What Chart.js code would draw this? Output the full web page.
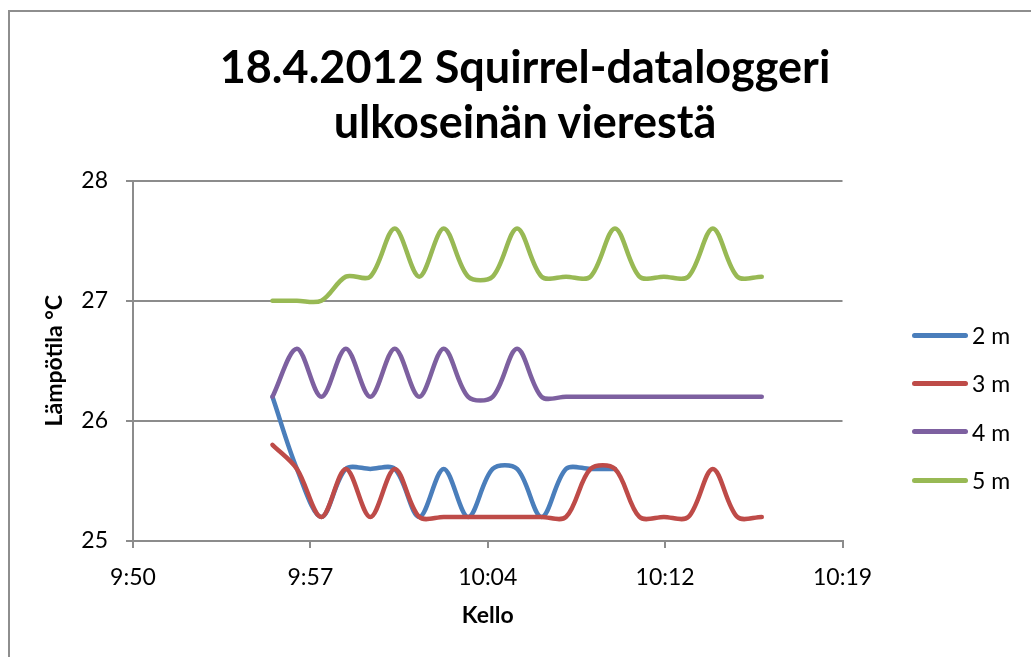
<!DOCTYPE html>
<html>
<head>
<meta charset="utf-8">
<script src="https://cdn.jsdelivr.net/npm/chart.js@4.4.1/dist/chart.umd.min.js"></script>
<style>
html,body{margin:0;padding:0;background:#fff;}
body{width:1031px;height:657px;overflow:hidden;position:relative;font-family:Lato,"Open Sans",sans-serif;}
#frame{position:absolute;left:8px;top:10px;width:1100px;height:700px;border-left:2px solid #8e8e8e;border-top:2px solid #8e8e8e;}
#title{position:absolute;left:0;width:1050px;top:39px;text-align:center;font-weight:bold;font-size:45px;line-height:55px;color:#000;}
#legend{position:absolute;left:912px;top:0;}
.item{position:absolute;left:0;white-space:nowrap;display:flex;align-items:center;font-size:23px;line-height:30px;color:#000;}
.swatch{width:56px;height:5px;border-radius:3px;margin-right:4px;}
#chart{position:absolute;left:0;top:0;}
</style>
</head>
<body>
<div id="frame"></div>
<canvas id="chart" width="1031" height="657"></canvas>
<div id="title">18.4.2012 Squirrel-dataloggeri<br>ulkoseinän vierestä</div>
<div id="legend"></div>
<script>
// mittausajat (1 min välein)
const times = [
    "9:55:42","9:56:42","9:57:42","9:58:42","9:59:42","10:00:42","10:01:42",
    "10:02:42","10:03:42","10:04:42","10:05:42","10:06:42","10:07:42","10:08:42",
    "10:09:42","10:10:42","10:11:42","10:12:42","10:13:42","10:14:42","10:15:42"
];

const seriesNames = ["2 m","3 m","4 m","5 m"];

const temp2m = [26.2,25.6,25.2,25.6,25.6,25.6,25.2,25.6,25.2,25.6,25.6,25.2,25.6,25.6,25.6];
const temp3m = [25.8,25.6,25.2,25.6,25.2,25.6,25.2,25.2,25.2,25.2,25.2,25.2,25.2,25.6,25.6,25.2,25.2,25.2,25.6,25.2,25.2];
const temp4m = [26.2,26.6,26.2,26.6,26.2,26.6,26.2,26.6,26.2,26.2,26.6,26.2,26.2,26.2,26.2,26.2,26.2,26.2,26.2,26.2,26.2];
const temp5m = [27.0,27.0,27.0,27.2,27.2,27.6,27.2,27.6,27.2,27.2,27.6,27.2,27.2,27.2,27.6,27.2,27.2,27.2,27.6,27.2,27.2];

const xTickLabels = ["9:50","9:57","10:04","10:12","10:19"];
const xStart = "9:50";
const xEnd = "10:19";

const colors = ["#4A7EBB","#BE4B48","#7D60A0","#98B954"];

function toMinutes(t){
    const p = t.split(":").map(Number);
    return p[0]*60 + p[1] + (p[2] || 0)/60;
}

function points(values){
    return values.map((v,i)=>({x:toMinutes(times[i]), y:v}));
}

const allSeries = [temp2m,temp3m,temp4m,temp5m];

const xMin = toMinutes(xStart);
const xMax = toMinutes(xEnd);

const gridColor = "#8c8c8c";
const font = "Lato, 'Open Sans', sans-serif";

const chart = new Chart(document.getElementById("chart"),{

    type:"line",

    data:{
        datasets: allSeries.map((vals,i)=>({
            label: seriesNames[i],
            data: points(vals),
            borderColor: colors[i],
            backgroundColor: colors[i],
            borderWidth: 4.5,
            borderCapStyle: "round",
            borderJoinStyle: "round",
            pointRadius: 0,
            tension: 0.33,
            fill: false,
            order: allSeries.length - i
        }))
    },

    options:{
        responsive:false,
        animation:false,
        layout:{
            padding:{left:30, right:188.5, top:180.5, bottom:0}
        },
        plugins:{
            legend:{display:false},
            tooltip:{enabled:false}
        },
        scales:{
            x:{
                type:"linear",
                min:xMin,
                max:xMax,
                afterBuildTicks:(scale)=>{
                    scale.ticks = xTickLabels.map((l,i)=>({
                        value: xMin + i*(xMax-xMin)/(xTickLabels.length-1)
                    }));
                },
                afterFit:(scale)=>{ scale.height = 116; },
                ticks:{
                    callback:(v,i)=>xTickLabels[i],
                    color:"#000",
                    font:{family:font, size:23},
                    padding:16,
                    maxRotation:0,
                    autoSkip:false
                },
                grid:{
                    drawOnChartArea:false,
                    drawTicks:true,
                    tickLength:7,
                    color:gridColor,
                    lineWidth:2
                },
                border:{display:true, color:gridColor, width:2},
                title:{
                    display:true,
                    text:"Kello",
                    color:"#000",
                    font:{family:font, size:23, weight:"bold"},
                    padding:{top:0, bottom:28}
                }
            },
            y:{
                min:25,
                max:28,
                afterFit:(scale)=>{ scale.width = 103; },
                ticks:{
                    stepSize:1,
                    color:"#000",
                    font:{family:font, size:23},
                    padding:18
                },
                grid:{
                    drawTicks:true,
                    tickLength:7,
                    color:gridColor,
                    lineWidth:2
                },
                border:{display:true, color:gridColor, width:2},
                title:{
                    display:true,
                    text:"Lämpötila °C",
                    color:"#000",
                    font:{family:font, size:23, weight:"bold"},
                    padding:{top:11, bottom:14}
                }
            }
        }
    }

});

// selite
const legend = document.getElementById("legend");
const rowY = [335,383,431.5,480];
chart.data.datasets.forEach((ds,i)=>{
    const item = document.createElement("div");
    item.className = "item";
    item.style.top = (rowY[i]-15) + "px";
    const sw = document.createElement("span");
    sw.className = "swatch";
    sw.style.background = ds.borderColor;
    item.appendChild(sw);
    item.appendChild(document.createTextNode(ds.label));
    legend.appendChild(item);
});
</script>
</body>
</html>
